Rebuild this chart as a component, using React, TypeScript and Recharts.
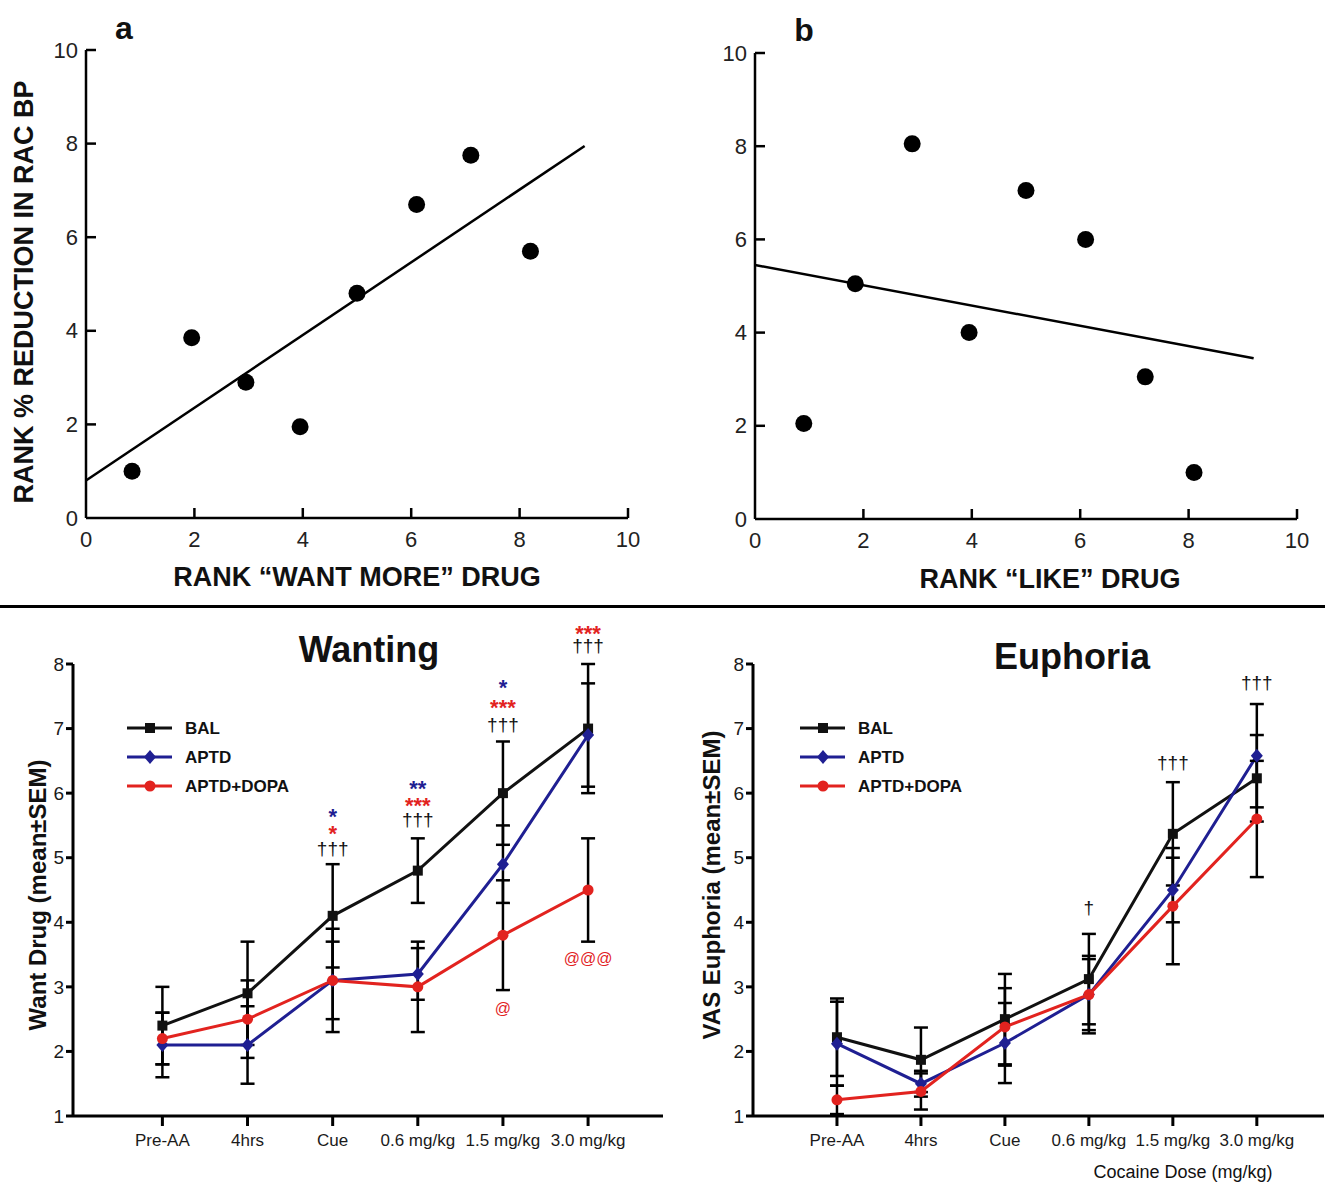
import React from 'react';
import {
    ScatterChart, Scatter, XAxis, YAxis, ComposedChart, Line, ErrorBar, ReferenceDot, Legend,
} from 'recharts';

// panel a / b: rank correlations
const rankWant = [0.85, 1.95, 2.95, 3.95, 5.0, 6.1, 7.1, 8.2];
const rankRacA = [1.0, 3.85, 2.9, 1.95, 4.8, 6.7, 7.75, 5.7];
const fitAx = [0, 9.2];
const fitAy = [0.8, 7.95];

const rankLike = [0.9, 1.85, 2.9, 3.95, 5.0, 6.1, 7.2, 8.1];
const rankRacB = [2.05, 5.05, 8.05, 4.0, 7.05, 6.0, 3.05, 1.0];
const fitBx = [0, 9.2];
const fitBy = [5.45, 3.45];

const rankTicks = [0, 2, 4, 6, 8, 10];

// bottom panels
const timepoints = ['Pre-AA', '4hrs', 'Cue', '0.6 mg/kg', '1.5 mg/kg', '3.0 mg/kg'];
const seriesNames = ['BAL', 'APTD', 'APTD+DOPA'];

const wantBal = [2.4, 2.9, 4.1, 4.8, 6.0, 7.0];
const wantBalErr = [0.6, 0.8, 0.8, 0.5, 0.8, 1.0];
const wantAptd = [2.1, 2.1, 3.1, 3.2, 4.9, 6.9];
const wantAptdErr = [0.5, 0.6, 0.8, 0.4, 0.6, 0.8];
const wantDopa = [2.2, 2.5, 3.1, 3.0, 3.8, 4.5];
const wantDopaErr = [0.4, 0.6, 0.6, 0.7, 0.85, 0.8];

const euphBal = [2.22, 1.87, 2.5, 3.12, 5.37, 6.23];
const euphBalErr = [0.6, 0.5, 0.7, 0.7, 0.8, 0.67];
const euphAptd = [2.12, 1.5, 2.13, 2.88, 4.5, 6.58];
const euphAptdErr = [0.65, 0.2, 0.62, 0.55, 0.5, 0.8];
const euphDopa = [1.25, 1.38, 2.38, 2.88, 4.25, 5.6];
const euphDopaErr = [0.22, 0.28, 0.6, 0.6, 0.9, 0.9];

const doseTicks = [1, 2, 3, 4, 5, 6, 7, 8];

// significance marks: timepoint index, value level, text, series
const wantMarkIdx = [2, 2, 2, 3, 3, 3, 4, 4, 4, 5, 5, 4, 5];
const wantMarkLvl = [5.72, 5.46, 5.12, 6.16, 5.89, 5.57, 7.71, 7.41, 7.05, 8.56, 8.27, 2.65, 3.42];
const wantMarkText = ['*', '*', '†††', '**', '***', '†††', '*', '***', '†††', '***', '†††', '@', '@@@'];
const wantMarkSeries = [1, 2, 0, 1, 2, 0, 1, 2, 0, 2, 0, 2, 2];

const euphMarkIdx = [3, 4, 5];
const euphMarkLvl = [4.21, 6.45, 7.7];
const euphMarkText = ['†', '†††', '†††'];
const euphMarkSeries = [0, 0, 0];

const BLACK = '#111111';
const BLUE = '#1f1f92';
const RED = '#e2231f';
const seriesColors = [BLACK, BLUE, RED];
const seriesShapes = ['square', 'diamond', 'circle'];

const ARIAL = '"Liberation Sans", Arial, sans-serif';

function Marker({ kind, cx, cy, color }: any) {
    if (kind === 'square') return <rect x={cx - 5} y={cy - 5} width={10} height={10} fill={color} />;
    if (kind === 'diamond') {
        return <polygon points={`${cx},${cy - 7} ${cx + 6},${cy} ${cx},${cy + 7} ${cx - 6},${cy}`} fill={color} />;
    }
    return <circle cx={cx} cy={cy} r={5.5} fill={color} />;
}

function RankTickY(props: any) {
    const { x, y, payload } = props;
    return (
        <g>
            {payload.value !== 0 && <line x1={x} x2={x + 10} y1={y} y2={y} stroke="#000" strokeWidth={2.5} />}
            <text x={x - 8} y={y} textAnchor="end" dominantBaseline="central"
                fontFamily={ARIAL} fontSize={22} fill="#222">{payload.value}</text>
        </g>
    );
}

function RankTickX(props: any) {
    const { x, y, payload } = props;
    return (
        <g>
            {payload.value !== 0 && <line x1={x} x2={x} y1={y} y2={y - 10} stroke="#000" strokeWidth={2.5} />}
            <text x={x} y={y + 21} textAnchor="middle" dominantBaseline="central"
                fontFamily={ARIAL} fontSize={22} fill="#222">{payload.value}</text>
        </g>
    );
}

function RankPanel({ xs, ys, fx, fy, width, height, margin }: any) {
    const pts = xs.map((x: number, i: number) => ({ x, y: ys[i] }));
    const fit = fx.map((x: number, i: number) => ({ x, y: fy[i] }));
    return (
        <ScatterChart width={width} height={height} margin={margin}>
            <XAxis type="number" dataKey="x" domain={[0, 10]} ticks={rankTicks} height={30}
                tickSize={0} tickMargin={0} tickLine={false} tick={<RankTickX />}
                axisLine={{ stroke: '#000', strokeWidth: 2.5 }} />
            <YAxis type="number" dataKey="y" domain={[0, 10]} ticks={rankTicks} width={40}
                tickSize={0} tickMargin={0} tickLine={false} tick={<RankTickY />}
                axisLine={{ stroke: '#000', strokeWidth: 2.5 }} />
            <Scatter data={fit} isAnimationActive={false} line={{ stroke: '#000', strokeWidth: 2.5 }}
                shape={() => <g />} />
            <Scatter data={pts} isAnimationActive={false}
                shape={(p: any) => <circle cx={p.cx} cy={p.cy} r={8.5} fill="#000" />} />
        </ScatterChart>
    );
}

function markerDot(kind: string, color: string) {
    return (p: any) => <Marker key={`${kind}-${p.index}`} kind={kind} cx={p.cx} cy={p.cy} color={color} />;
}

function markText(text: string, series: number) {
    const isStar = text.includes('*');
    const isAt = text.includes('@');
    const size = isStar ? 22 : isAt ? 16 : 19;
    const shift = isStar ? 0.58 : 0.28;
    return (p: any) => (
        <text x={p.cx} y={p.cy + size * shift} textAnchor="middle" fontFamily={ARIAL}
            fontWeight={isStar ? 'bold' : 'normal'} fontSize={size} fill={seriesColors[series]}>{text}</text>
    );
}

function SeriesLegend() {
    return (
        <svg width={190} height={90}>
            {seriesNames.map((name, i) => (
                <g key={name}>
                    <line x1={2} x2={47} y1={12 + i * 29} y2={12 + i * 29} stroke={seriesColors[i]} strokeWidth={3} />
                    <Marker kind={seriesShapes[i]} cx={25} cy={12 + i * 29} color={seriesColors[i]} />
                    <text x={60} y={12 + i * 29} dominantBaseline="central" fontFamily={ARIAL}
                        fontWeight="bold" fontSize={17} fill="#111">{name}</text>
                </g>
            ))}
        </svg>
    );
}

function DosePanel({ bal, balErr, aptd, aptdErr, dopa, dopaErr, markIdx, markLvl, markTxt, markSer,
    width, height, margin, xDomain, legendPos }: any) {
    const rows = timepoints.map((t, i) => ({
        i, bal: bal[i], balErr: balErr[i], aptd: aptd[i], aptdErr: aptdErr[i], dopa: dopa[i], dopaErr: dopaErr[i],
    }));
    const vals = [
        ['bal', 'balErr'], ['aptd', 'aptdErr'], ['dopa', 'dopaErr'],
    ];
    return (
        <ComposedChart width={width} height={height} data={rows} margin={margin}>
            <XAxis type="number" dataKey="i" domain={xDomain} ticks={[0, 1, 2, 3, 4, 5]} interval={0}
                tickFormatter={(v: number) => timepoints[v]} height={40} tickSize={10} tickMargin={8}
                axisLine={{ stroke: '#000', strokeWidth: 3 }} tickLine={{ stroke: '#000', strokeWidth: 3 }}
                tick={{ fontSize: 17, fill: '#1a1a1a', fontFamily: ARIAL }} />
            <YAxis type="number" domain={[1, 8]} ticks={doseTicks} width={40} tickSize={7} tickMargin={2}
                axisLine={{ stroke: '#000', strokeWidth: 3 }} tickLine={{ stroke: '#000', strokeWidth: 3 }}
                tick={{ fontSize: 19, fill: '#1a1a1a', fontFamily: ARIAL }} />
            {vals.map(([k, e], s) => (
                <Line key={k} dataKey={k} name={seriesNames[s]} stroke={seriesColors[s]} strokeWidth={3}
                    isAnimationActive={false} dot={markerDot(seriesShapes[s], seriesColors[s])} activeDot={false}>
                    <ErrorBar dataKey={e} direction="y" width={7} stroke="#000" strokeWidth={2.5} />
                </Line>
            ))}
            {markIdx.map((ix: number, k: number) => (
                <ReferenceDot key={k} x={ix} y={markLvl[k]} r={0} ifOverflow="visible"
                    shape={markText(markTxt[k], markSer[k])} />
            ))}
            <Legend layout="vertical" align="center" verticalAlign="middle"
                wrapperStyle={{ position: 'absolute', left: legendPos[0], top: legendPos[1], width: 200, height: 90 }}
                content={() => <SeriesLegend />} />
        </ComposedChart>
    );
}

function Txt({ x, y, children, size, bold, rotate }: any) {
    return (
        <div style={{
            position: 'absolute', left: x, top: y, whiteSpace: 'nowrap',
            transform: `translate(-50%, -50%)${rotate ? ` rotate(${rotate}deg)` : ''}`,
            fontFamily: ARIAL, fontSize: size, fontWeight: bold ? 'bold' : 'normal',
            color: '#111', lineHeight: 1,
        }}>{children}</div>
    );
}

export default function App() {
    return (
        <div style={{ position: 'absolute', left: 0, top: 0, width: 1325, height: 1184, background: '#fff', overflow: 'hidden' }}>
            <div style={{ position: 'absolute', left: 0, top: 0 }}>
                <RankPanel xs={rankWant} ys={rankRacA} fx={fitAx} fy={fitAy} width={660} height={600}
                    margin={{ top: 50, right: 32, bottom: 52, left: 46 }} />
            </div>
            <div style={{ position: 'absolute', left: 660, top: 0 }}>
                <RankPanel xs={rankLike} ys={rankRacB} fx={fitBx} fy={fitBy} width={665} height={600}
                    margin={{ top: 53, right: 28, bottom: 51, left: 55 }} />
            </div>
            <Txt x={124} y={28} size={32} bold>a</Txt>
            <Txt x={804} y={30} size={32} bold>b</Txt>
            <Txt x={24} y={292} size={27} bold rotate={-90}>RANK % REDUCTION IN RAC BP</Txt>
            <Txt x={357} y={577} size={27} bold>RANK “WANT MORE” DRUG</Txt>
            <Txt x={1050} y={579} size={27} bold>RANK “LIKE” DRUG</Txt>

            <div style={{ position: 'absolute', left: 0, top: 605, width: 1325, height: 3, background: '#000' }} />

            <div style={{ position: 'absolute', left: 0, top: 600 }}>
                <DosePanel bal={wantBal} balErr={wantBalErr} aptd={wantAptd} aptdErr={wantAptdErr}
                    dopa={wantDopa} dopaErr={wantDopaErr}
                    markIdx={wantMarkIdx} markLvl={wantMarkLvl} markTxt={wantMarkText} markSer={wantMarkSeries}
                    width={670} height={560} margin={{ top: 64, right: 7, bottom: 4, left: 33 }}
                    xDomain={[-1.05, 5.88]} legendPos={[125, 116]} />
            </div>
            <div style={{ position: 'absolute', left: 670, top: 600 }}>
                <DosePanel bal={euphBal} balErr={euphBalErr} aptd={euphAptd} aptdErr={euphAptdErr}
                    dopa={euphDopa} dopaErr={euphDopaErr}
                    markIdx={euphMarkIdx} markLvl={euphMarkLvl} markTxt={euphMarkText} markSer={euphMarkSeries}
                    width={655} height={560} margin={{ top: 64, right: 1, bottom: 4, left: 43 }}
                    xDomain={[-1.0, 5.8]} legendPos={[128, 116]} />
            </div>
            <Txt x={369} y={650} size={36} bold>Wanting</Txt>
            <Txt x={1072} y={657} size={36} bold>Euphoria</Txt>
            <Txt x={38} y={895} size={24} bold rotate={-90}>Want Drug (mean±SEM)</Txt>
            <Txt x={712} y={885} size={24} bold rotate={-90}>VAS Euphoria (mean±SEM)</Txt>
            <Txt x={1183} y={1172} size={18}>Cocaine Dose (mg/kg)</Txt>
        </div>
    );
}
